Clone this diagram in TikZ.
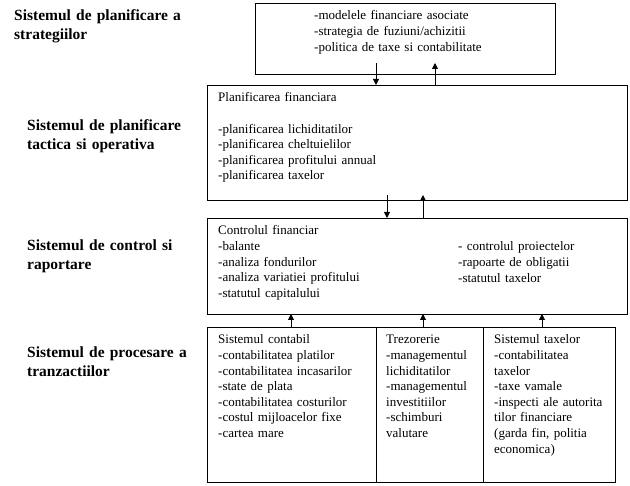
\documentclass[tikz,border=0pt]{standalone}
\usepackage{fontspec}
\setmainfont{Liberation Serif}
\usetikzlibrary{positioning,arrows.meta}
\tikzstyle{box} = [
rectangle,
draw=black,
line width=0.9pt,
outer sep=0pt,
inner sep=0pt,
anchor=north west
]
\tikzstyle{txt} = [
anchor=base west,
inner sep=0pt,
text width=200pt,
align=left,
font=\fontsize{13}{15.6}\selectfont
]
\tikzstyle{lvl} = [
anchor=base west,
inner sep=0pt,
text width=200pt,
align=left,
font=\bfseries\fontsize{15.5}{18.3}\selectfont
]
\tikzstyle{flow} = [
-{Triangle[length=6pt,width=6pt]},
line width=0.9pt
]
\begin{document}
\begin{tikzpicture}[
	x=1pt,
	y=-1pt
	]
	\useasboundingbox (0,0) rectangle (630,486);
	
	\node[box,minimum width=300pt,minimum height=71pt] (strat) at (255,3) {};
	\node[box,minimum width=420pt,minimum height=115pt] (tact) at (207,85) {};
	\node[box,minimum width=420pt,minimum height=96pt] (ctrl) at (207,218) {};
	\node[box,minimum width=169pt,minimum height=155pt] (contab) at (207,327) {};
	\node[box,minimum width=107pt,minimum height=155pt,right=0pt of contab] (trez) {};
	\node[box,minimum width=132pt,minimum height=155pt,right=0pt of trez] (taxe) {};
	
	\node[lvl] (lstrat) at (14,21) {Sistemul de planificare a\\strategiilor};
	\node[lvl] (ltact) at (27,131) {Sistemul de planificare\\tactica si operativa};
	\node[lvl] (lctrl) at (27,251) {Sistemul de control si\\raportare};
	\node[lvl] (lproc) at (27,358) {Sistemul de procesare a\\tranzactiilor};
	
	\node[txt] (tstrat) at (314,20) {-modelele financiare asociate\\-strategia de fuziuni/achizitii\\-politica de taxe si contabilitate};
	\node[txt] (ttact) at (218,102) {Planificarea financiara\\[15.6pt]-planificarea lichiditatilor\\-planificarea cheltuielilor\\-planificarea profitului annual\\-planificarea taxelor};
	\node[txt] (tctrl) at (218,235) {Controlul financiar\\-balante\\-analiza fondurilor\\-analiza variatiei profitului\\-statutul capitalului};
	\node[txt] (tctrlb) at (458,251) {- controlul proiectelor\\-rapoarte de obligatii\\-statutul taxelor};
	\node[txt] (tcontab) at (218,344) {Sistemul contabil\\-contabilitatea platilor\\-contabilitatea incasarilor\\-state de plata\\-contabilitatea costurilor\\-costul mijloacelor fixe\\-cartea mare};
	\node[txt] (ttrez) at (386,344) {Trezorerie\\-managementul\\lichiditatilor\\-managementul\\investitiilor\\-schimburi\\valutare};
	\node[txt] (ttaxe) at (494,344) {Sistemul taxelor\\-contabilitatea\\taxelor\\-taxe vamale\\-inspecti ale autorita\\tilor financiare\\(garda fin, politia\\economica)};
	
	\coordinate (d1) at (376,63);
	\coordinate (u1) at (435,63);
	\coordinate (d2) at (387,195);
	\coordinate (u2) at (423,195);
	
	\draw[flow] (d1) -- (d1 |- tact.north);
	\draw[flow] (u1 |- tact.north) -- (u1);
	\draw[flow] (d2) -- (d2 |- ctrl.north);
	\draw[flow] (u2 |- ctrl.north) -- (u2);
	\draw[flow] ([xshift=84pt]contab.north west) -- ([xshift=84pt]ctrl.south west);
	\draw[flow] ([xshift=47pt]trez.north west) -- ([xshift=216pt]ctrl.south west);
	\draw[flow] ([xshift=59pt]taxe.north west) -- ([xshift=335pt]ctrl.south west);
\end{tikzpicture}
\end{document}
